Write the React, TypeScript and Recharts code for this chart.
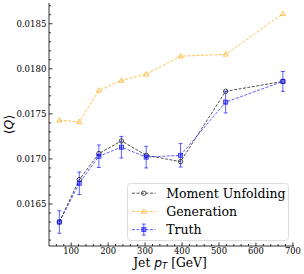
import React from 'react';
import { LineChart, Line, XAxis, YAxis, ErrorBar, Legend } from 'recharts';

// ---- data ----
const ptBins = [68, 122, 175, 236, 303, 396, 518, 673];
const momentUnfolding = [0.01630, 0.01677, 0.01706, 0.01720, 0.01704, 0.01697, 0.01775, 0.01786];
const generation = [0.01743, 0.01741, 0.01776, 0.01787, 0.01794, 0.01814, 0.01816, 0.01861];
const truth = [0.01630, 0.01673, 0.01703, 0.01713, 0.01702, 0.01704, 0.01763, 0.01786];
const truthErr = [0.000125, 0.000125, 0.000125, 0.00012, 0.00012, 0.00013, 0.00012, 0.00011];

const seriesNames = ['Moment Unfolding', 'Generation', 'Truth'];

const xMajorTicks = [100, 200, 300, 400, 500, 600, 700];
const xMinorTicks = [60, 80, 120, 140, 160, 180, 220, 240, 260, 280, 320, 340, 360, 380, 420, 440, 460, 480, 520, 540, 560, 580, 620, 640, 660, 680];
const yMajorTicks = [0.0165, 0.017, 0.0175, 0.018, 0.0185];
const yMinorTicks = [0.0161, 0.0162, 0.0163, 0.0164, 0.0166, 0.0167, 0.0168, 0.0169, 0.0171, 0.0172, 0.0173, 0.0174, 0.0176, 0.0177, 0.0178, 0.0179, 0.0181, 0.0182, 0.0183, 0.0184, 0.0186, 0.0187];

const xDomain: [number, number] = [40, 703];
const yDomain: [number, number] = [0.016034, 0.01873];

const data = ptBins.map((pt, i) => ({
  pt,
  moment: momentUnfolding[i],
  gen: generation[i],
  truth: truth[i],
  err: truthErr[i],
}));

const xTicksAll = [...xMinorTicks, ...xMajorTicks].sort((a, b) => a - b);
const yTicksAll = [...yMinorTicks, ...yMajorTicks].sort((a, b) => a - b);

const isMajorX = (v: number) => xMajorTicks.some((t) => Math.abs(t - v) < 1e-9);
const isMajorY = (v: number) => yMajorTicks.some((t) => Math.abs(t - v) < 1e-9);

const SERIF = '"DejaVu Serif", serif';
const SANS = '"DejaVu Sans", sans-serif';
const TICK_FONT = 8.4;
const LABEL_FONT = 12.5;
const XLABEL_FONT = 12.3;

const C_MOMENT = '#222222';
const C_GEN = '#FFA500';
const C_TRUTH = '#0000FF';

const BottomTick = (props: any) => {
  const { x, y, payload } = props;
  const major = isMajorX(payload.value);
  return (
    <g>
      <line x1={x} x2={x} y1={y} y2={y - (major ? 3.5 : 2)} stroke="#000" strokeWidth={0.8} />
      {major && (
        <text x={x} y={y + 7.5} textAnchor="middle" fontFamily={SERIF} fontSize={TICK_FONT} fill="#000">
          {payload.value}
        </text>
      )}
    </g>
  );
};

const TopTick = (props: any) => {
  const { x, y, payload } = props;
  const major = isMajorX(payload.value);
  return <line x1={x} x2={x} y1={y} y2={y + (major ? 3.5 : 2)} stroke="#000" strokeWidth={0.8} />;
};

const LeftTick = (props: any) => {
  const { x, y, payload } = props;
  const major = isMajorY(payload.value);
  return (
    <g>
      <line x1={x} x2={x + (major ? 3.5 : 2)} y1={y} y2={y} stroke="#000" strokeWidth={0.8} />
      {major && (
        <text x={x - 2.5} y={y} dy="0.355em" textAnchor="end" fontFamily={SERIF} fontSize={8.6} fill="#000">
          {payload.value.toFixed(4)}
        </text>
      )}
    </g>
  );
};

const RightTick = (props: any) => {
  const { x, y, payload } = props;
  const major = isMajorY(payload.value);
  return <line x1={x} x2={x - (major ? 3.5 : 2)} y1={y} y2={y} stroke="#000" strokeWidth={0.8} />;
};

const circleDot = (props: any) => (
  <circle key={`c-${props.index}`} cx={props.cx} cy={props.cy} r={2.2} fill="none" stroke={C_MOMENT} strokeWidth={0.8} />
);

const triPoints = (cx: number, cy: number, s: number) =>
  `${cx},${cy - s} ${cx - s * 0.95},${cy + s * 0.65} ${cx + s * 0.95},${cy + s * 0.65}`;

const triangleDot = (props: any) => (
  <polygon key={`t-${props.index}`} points={triPoints(props.cx, props.cy, 2.7)} fill="none" stroke={C_GEN} strokeOpacity={0.85} strokeWidth={0.8} />
);

const squareDot = (props: any) => (
  <rect key={`s-${props.index}`} x={props.cx - 2} y={props.cy - 2} width={4} height={4} fill={C_TRUTH} fillOpacity={0.35} stroke={C_TRUTH} strokeOpacity={0.75} strokeWidth={0.9} />
);

const LegendBox = () => {
  const rows = [10.2, 28.5, 46.6];
  return (
    <svg width={162} height={58} style={{ display: 'block', overflow: 'visible' }}>
      <rect x={0.5} y={0.5} width={161} height={57} rx={3} ry={3} fill="#ffffff" fillOpacity={0.8} stroke="#d6d6d6" strokeWidth={0.8} />
      <line x1={5} x2={28.5} y1={rows[0]} y2={rows[0]} stroke={C_MOMENT} strokeWidth={0.8} strokeDasharray="3 1.5" />
      <circle cx={16.8} cy={rows[0]} r={2.2} fill="none" stroke={C_MOMENT} strokeWidth={0.8} />
      <line x1={5} x2={28.5} y1={rows[1]} y2={rows[1]} stroke={C_GEN} strokeOpacity={0.85} strokeWidth={0.8} strokeDasharray="3 1.5" />
      <polygon points={triPoints(16.8, rows[1], 2.7)} fill="none" stroke={C_GEN} strokeOpacity={0.85} strokeWidth={0.8} />
      <line x1={5} x2={28.5} y1={rows[2]} y2={rows[2]} stroke={C_TRUTH} strokeOpacity={0.7} strokeWidth={0.9} strokeDasharray="3 1.5" />
      <line x1={16.8} x2={16.8} y1={rows[2] - 5.5} y2={rows[2] + 5.5} stroke={C_TRUTH} strokeOpacity={0.7} strokeWidth={0.9} />
      <line x1={14.8} x2={18.8} y1={rows[2] - 5.5} y2={rows[2] - 5.5} stroke={C_TRUTH} strokeOpacity={0.7} strokeWidth={0.9} />
      <line x1={14.8} x2={18.8} y1={rows[2] + 5.5} y2={rows[2] + 5.5} stroke={C_TRUTH} strokeOpacity={0.7} strokeWidth={0.9} />
      <rect x={14.8} y={rows[2] - 2} width={4} height={4} fill={C_TRUTH} fillOpacity={0.35} stroke={C_TRUTH} strokeOpacity={0.75} strokeWidth={0.9} />
      {seriesNames.map((name, i) => (
        <text key={name} x={39.2} y={rows[i]} dy="0.36em" fontFamily={SERIF} fontSize={LABEL_FONT} fill="#000">
          {name}
        </text>
      ))}
    </svg>
  );
};

export default function App() {
  return (
    <div style={{ position: 'absolute', left: 0, top: 0, width: 304, height: 274, background: '#fff' }}>
      <LineChart width={304} height={274} data={data} margin={{ top: 3, right: 10, bottom: 0, left: 0 }}>
        <XAxis
          dataKey="pt"
          type="number"
          domain={xDomain}
          allowDataOverflow
          ticks={xTicksAll}
          interval={0}
          tickSize={0}
          tickMargin={0}
          tickLine={false}
          tick={BottomTick}
          axisLine={{ stroke: '#000', strokeWidth: 0.8 }}
          height={28}
          label={{
            content: () => (
              <text x={170} y={267} textAnchor="middle" fontFamily={SERIF} fontSize={XLABEL_FONT} fill="#000">
                <tspan>Jet </tspan>
                <tspan fontFamily={SANS} fontStyle="italic">p</tspan>
                <tspan fontFamily={SANS} fontStyle="italic" fontSize={8.6} dy={1.5}>T</tspan>
                <tspan dy={-1.5}> [GeV]</tspan>
              </text>
            ),
          }}
        />
        <XAxis
          xAxisId="top"
          orientation="top"
          dataKey="pt"
          type="number"
          domain={xDomain}
          allowDataOverflow
          ticks={xTicksAll}
          interval={0}
          tickSize={0}
          tickMargin={0}
          tickLine={false}
          tick={TopTick}
          axisLine={{ stroke: '#000', strokeWidth: 0.8 }}
          height={0}
        />
        <YAxis
          type="number"
          domain={yDomain}
          allowDataOverflow
          ticks={yTicksAll}
          interval={0}
          tickSize={0}
          tickMargin={0}
          tickLine={false}
          tick={LeftTick}
          axisLine={{ stroke: '#000', strokeWidth: 0.8 }}
          width={49}
          label={{
            content: () => (
              <text x={13} y={124.5} transform="rotate(-90 13 124.5)" textAnchor="middle" fontFamily={SANS} fontSize={LABEL_FONT} fill="#000">
                <tspan>⟨</tspan>
                <tspan fontStyle="italic">Q</tspan>
                <tspan>⟩</tspan>
              </text>
            ),
          }}
        />
        <YAxis
          yAxisId="right"
          orientation="right"
          type="number"
          domain={yDomain}
          allowDataOverflow
          ticks={yTicksAll}
          interval={0}
          tickSize={0}
          tickMargin={0}
          tickLine={false}
          tick={RightTick}
          axisLine={{ stroke: '#000', strokeWidth: 0.8 }}
          width={0}
        />
        <Line
          dataKey="gen"
          name={seriesNames[1]}
          stroke={C_GEN}
          strokeOpacity={0.85}
          strokeWidth={0.8}
          strokeDasharray="3 1.5"
          dot={triangleDot}
          isAnimationActive={false}
        />
        <Line
          dataKey="moment"
          name={seriesNames[0]}
          stroke={C_MOMENT}
          strokeWidth={0.8}
          strokeDasharray="3 1.5"
          dot={circleDot}
          isAnimationActive={false}
        />
        <Line
          dataKey="truth"
          name={seriesNames[2]}
          stroke={C_TRUTH}
          strokeOpacity={0.7}
          strokeWidth={0.9}
          strokeDasharray="3 1.5"
          dot={squareDot}
          isAnimationActive={false}
        >
          <ErrorBar dataKey="err" direction="y" width={2} stroke={C_TRUTH} strokeOpacity={0.7} strokeWidth={0.9} />
        </Line>
        <Legend
          layout="horizontal"
          align="center"
          verticalAlign="middle"
          content={() => <LegendBox />}
          wrapperStyle={{ left: 126.5, top: 182.5, width: 162, height: 58 }}
        />
      </LineChart>
    </div>
  );
}
